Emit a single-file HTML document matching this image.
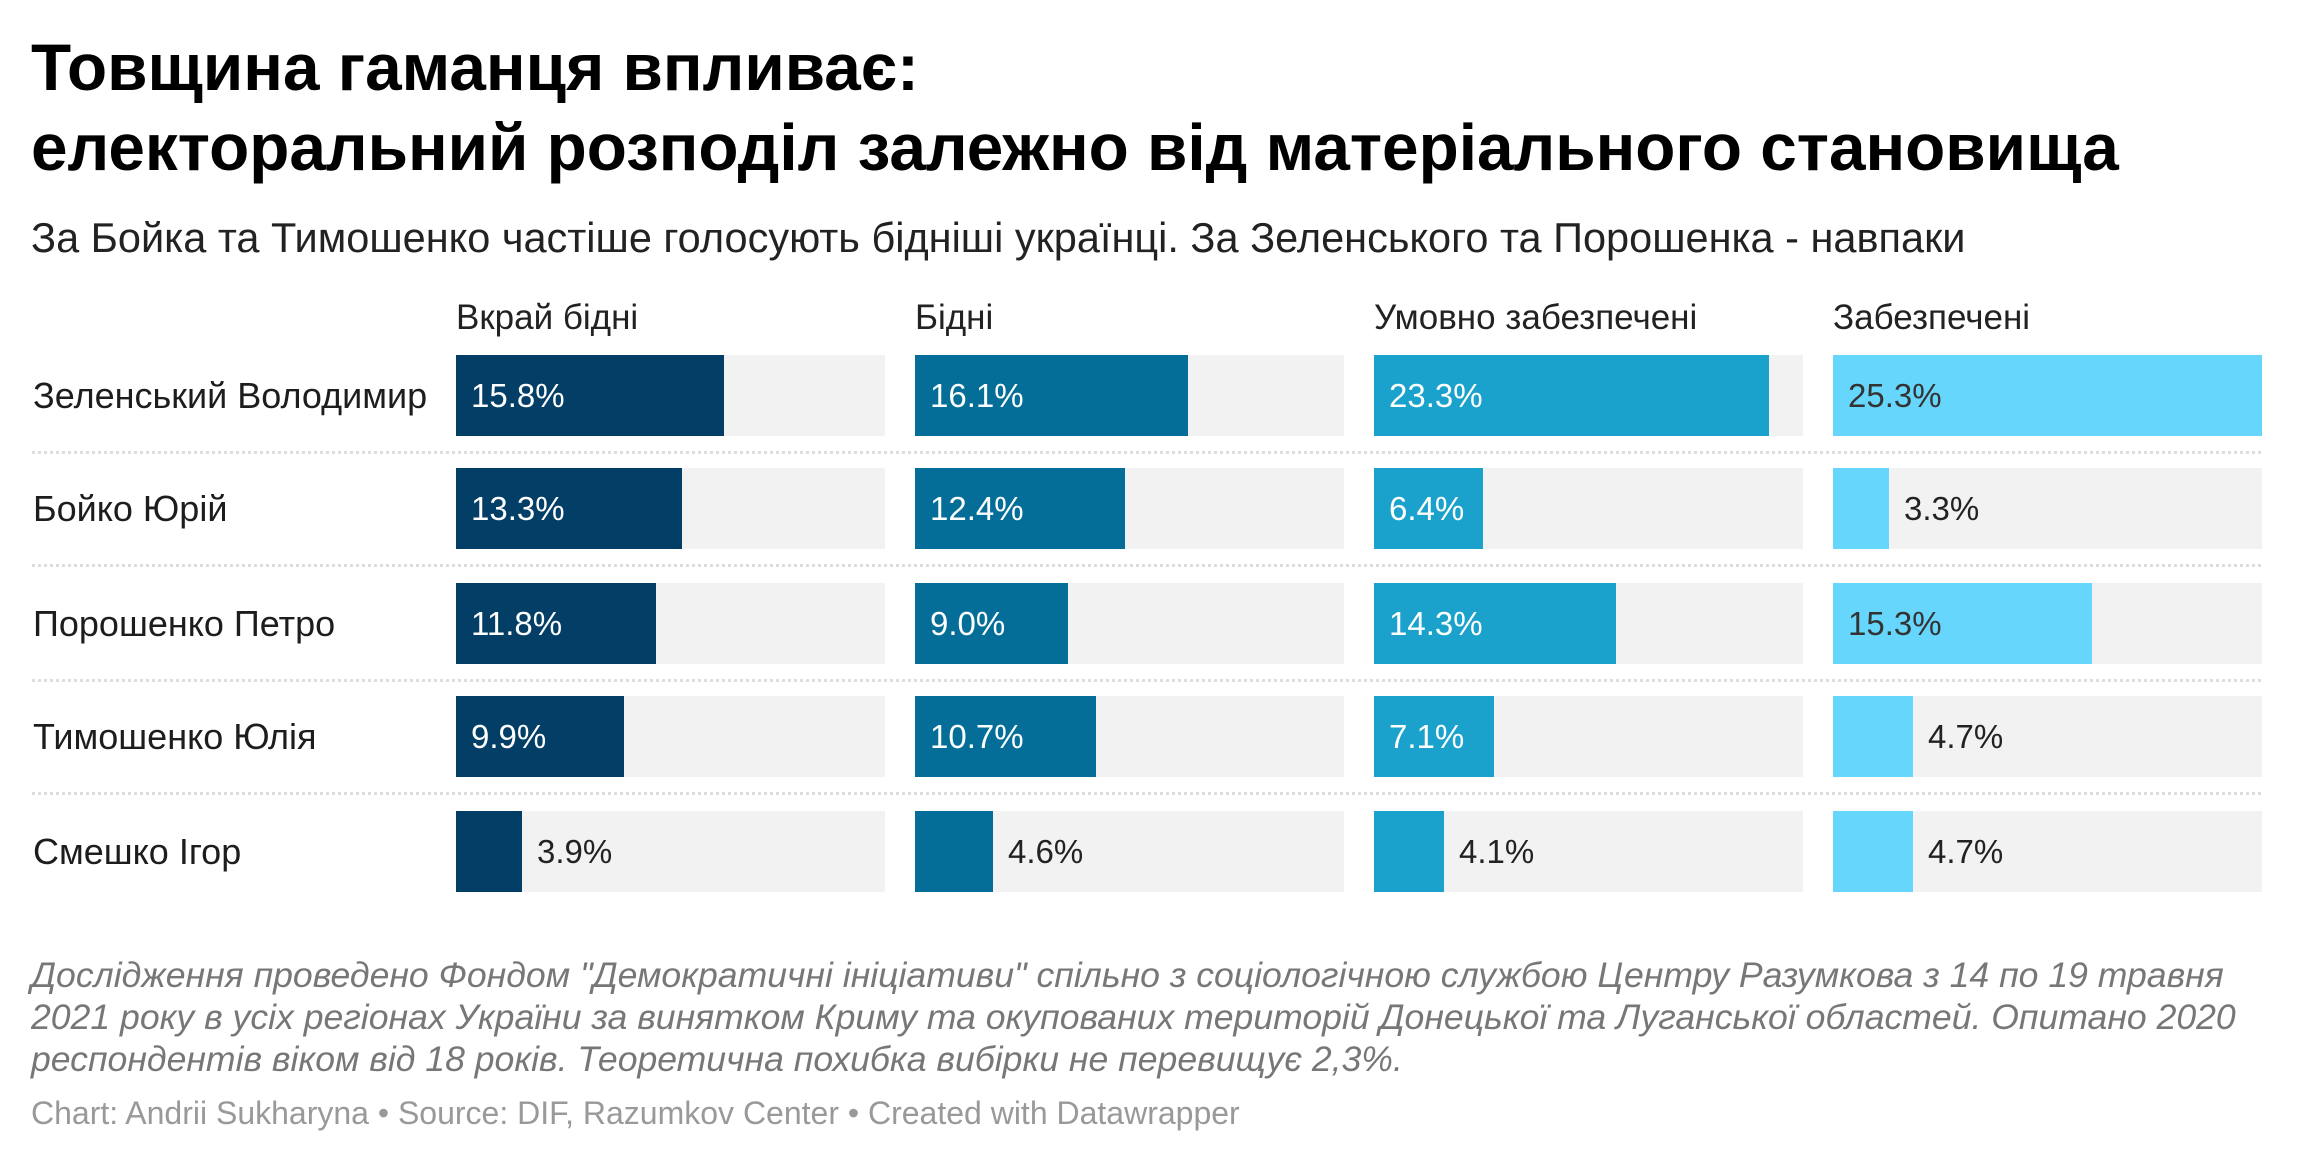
<!DOCTYPE html>
<html><head><meta charset="utf-8"><style>
body{margin:0;background:#fff;width:2307px;height:1161px;overflow:hidden;position:relative;font-family:"Liberation Sans","DejaVu Sans",sans-serif;color:#1d1d1d}
.a{position:absolute;white-space:nowrap}
.t{left:31px;font-weight:bold;font-size:65.7px;color:#000}
.sub{left:31px;top:214px;font-size:41.5px;color:#222}
.h{top:298px;font-size:35px;color:#222}
.rl{left:33px;font-size:36px;line-height:81px;color:#1d1d1d}
.tr{position:absolute;height:81px;background:#f2f2f2;width:429px}
.b{position:absolute;left:0;top:0;height:81px}
.v{position:absolute;top:0;line-height:81px;font-size:33px;white-space:nowrap}
.sep{position:absolute;left:32px;width:2229px;height:0;border-top:3px dotted #ddd}
.n{left:31px;font-size:35.6px;font-style:italic;color:#777}
.f{left:31px;top:1095px;font-size:32px;color:#999}
</style></head><body>
<div class="a t" style="top:30px">Товщина гаманця впливає:</div>
<div class="a t" style="top:110px">електоральний розподіл залежно від матеріального становища</div>
<div class="a sub">За Бойка та Тимошенко частіше голосують бідніші українці. За Зеленського та Порошенка - навпаки</div>
<div class="a h" style="left:456px">Вкрай бідні</div>
<div class="a h" style="left:915px">Бідні</div>
<div class="a h" style="left:1374px">Умовно забезпечені</div>
<div class="a h" style="left:1833px">Забезпечені</div>
<div id="c"></div>
<div class="a n" style="top:955px">Дослідження проведено Фондом "Демократичні ініціативи" спільно з соціологічною службою Центру Разумкова з 14 по 19 травня</div>
<div class="a n" style="top:997px">2021 року в усіх регіонах України за винятком Криму та окупованих територій Донецької та Луганської областей. Опитано 2020</div>
<div class="a n" style="top:1039px">респондентів віком від 18 років. Теоретична похибка вибірки не перевищує 2,3%.</div>
<div class="a f">Chart: Andrii Sukharyna • Source: DIF, Razumkov Center • Created with Datawrapper</div>
<script>
var names=["Зеленський Володимир","Бойко Юрій","Порошенко Петро","Тимошенко Юлія","Смешко Ігор"];
var d=[[15.8,16.1,23.3,25.3],[13.3,12.4,6.4,3.3],[11.8,9.0,14.3,15.3],[9.9,10.7,7.1,4.7],[3.9,4.6,4.1,4.7]];
var cols=["#023e65","#046e99","#1aa2cc","#67d6fd"];
var xs=[456,915,1374,1833];var tops=[355,468,583,696,811];
var h="";
for(var r=0;r<5;r++){
 h+='<div class="a rl" style="top:'+tops[r]+'px">'+names[r]+'</div>';
 if(r<4)h+='<div class="sep" style="top:'+(tops[r]+96)+'px"></div>';
 for(var c=0;c<4;c++){
  var v=d[r][c],w=Math.round(v/25.3*429);
  var inside=v>=6;
  var col=inside?(c==3?"#333":"#fff"):"#222";
  var lx=inside?15:w+15;
  h+='<div class="tr" style="left:'+xs[c]+'px;top:'+tops[r]+'px"><div class="b" style="width:'+w+'px;background:'+cols[c]+'"></div><div class="v" style="left:'+lx+'px;color:'+col+'">'+v.toFixed(1)+'%</div></div>';
 }
}
document.getElementById("c").innerHTML=h;
</script>
</body></html>
